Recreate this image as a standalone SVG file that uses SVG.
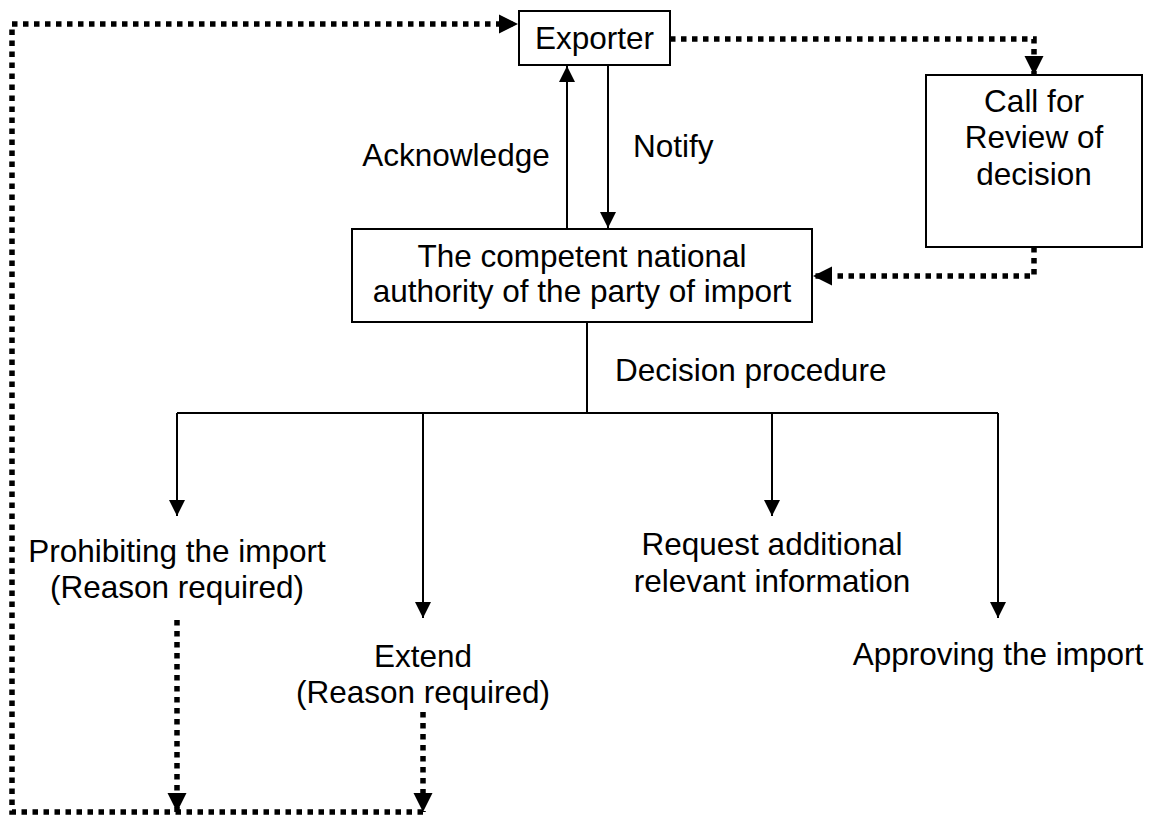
<svg xmlns="http://www.w3.org/2000/svg" width="1159" height="816" viewBox="0 0 1159 816">
  <style>
    text { font-family: "Liberation Sans", Arial, sans-serif; font-size: 31.5px; fill: #000; }
    .box { fill: #fff; stroke: #000; stroke-width: 2; }
    .solid { fill: none; stroke: #000; stroke-width: 2; }
    .dotted { fill: none; stroke: #000; stroke-width: 5.5; stroke-dasharray: 5.5 5.5; }
    .mid { text-anchor: middle; }
  </style>
  <defs>
    <marker id="arrow" markerUnits="userSpaceOnUse" markerWidth="17" markerHeight="17" viewBox="0 0 17 17" refX="16" refY="8.5" orient="auto">
      <path d="M0,0.5 L16,8.5 L0,16.5 Z" fill="#000"/>
    </marker>
    <marker id="arrowBig" markerUnits="userSpaceOnUse" markerWidth="20" markerHeight="20" viewBox="0 0 20 20" refX="19" refY="10" orient="auto">
      <path d="M0,0.5 L19,10 L0,19.5 Z" fill="#000"/>
    </marker>
  </defs>

  <g id="connectors">
    <!-- exporter <-> authority -->
    <path class="solid" d="M567,229 V66" marker-end="url(#arrow)"/>
    <path class="solid" d="M608,65 V228" marker-end="url(#arrow)"/>
    <!-- decision procedure tree -->
    <path class="solid" d="M587,322 V413"/>
    <path class="solid" d="M177,413 H998"/>
    <path class="solid" d="M177,413 V516" marker-end="url(#arrow)"/>
    <path class="solid" d="M423,413 V618" marker-end="url(#arrow)"/>
    <path class="solid" d="M772,413 V516" marker-end="url(#arrow)"/>
    <path class="solid" d="M998,413 V618" marker-end="url(#arrow)"/>
    <!-- review loop -->
    <path class="dotted" d="M670,39 H1034 V75" marker-end="url(#arrowBig)"/>
    <path class="dotted" d="M1034,247 V276 H813" marker-end="url(#arrowBig)"/>
    <!-- reasons returned to the exporter -->
    <path class="dotted" d="M177,620 V812" marker-end="url(#arrowBig)"/>
    <path class="dotted" d="M423,712 V812" marker-end="url(#arrowBig)"/>
    <path class="dotted" d="M423,812 H12 V24 H518" marker-end="url(#arrowBig)"/>
  </g>

  <g id="exporter">
    <rect class="box" x="519" y="11" width="151" height="54"/>
    <text class="mid" x="594.5" y="49">Exporter</text>
  </g>

  <g id="authority">
    <rect class="box" x="352" y="229" width="460" height="93"/>
    <text class="mid" x="582" y="267">The competent national</text>
    <text class="mid" x="582" y="302">authority of the party of import</text>
  </g>

  <g id="review">
    <rect class="box" x="926" y="75" width="216" height="172"/>
    <text class="mid" x="1034" y="112">Call for</text>
    <text class="mid" x="1034" y="148">Review of</text>
    <text class="mid" x="1034" y="185">decision</text>
  </g>

  <g id="labels">
    <text class="mid" x="456" y="166">Acknowledge</text>
    <text x="633" y="157">Notify</text>
    <text x="615" y="381">Decision procedure</text>
  </g>

  <g id="prohibit">
    <text class="mid" x="177" y="562">Prohibiting the import</text>
    <text class="mid" x="177" y="598">(Reason required)</text>
  </g>

  <g id="extend">
    <text class="mid" x="423" y="667">Extend</text>
    <text class="mid" x="423" y="703">(Reason required)</text>
  </g>

  <g id="request">
    <text class="mid" x="772" y="555">Request additional</text>
    <text class="mid" x="772" y="592">relevant information</text>
  </g>

  <g id="approve">
    <text class="mid" x="998" y="665">Approving the import</text>
  </g>
</svg>
